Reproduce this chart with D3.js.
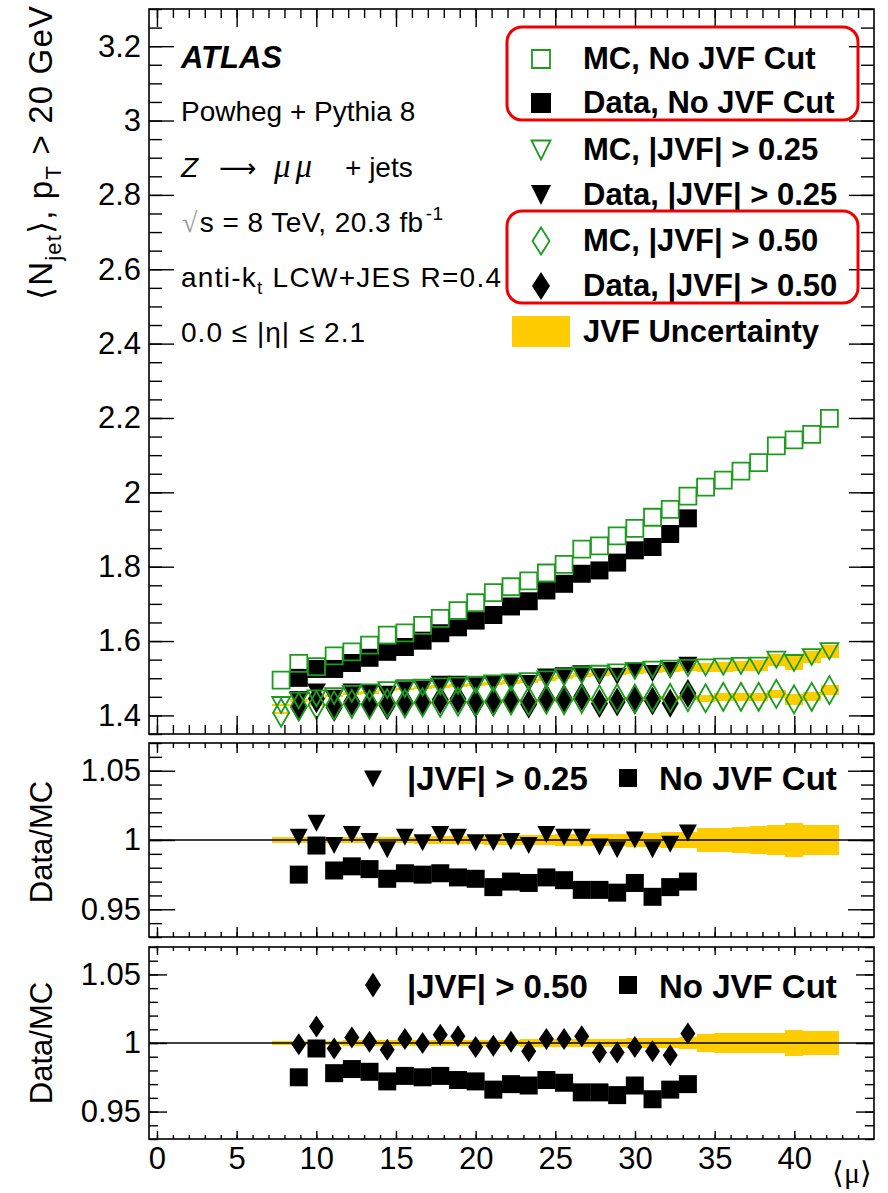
<!DOCTYPE html>
<html><head><meta charset="utf-8">
<script src="https://cdn.jsdelivr.net/npm/d3@7"></script>
<style>
body{margin:0;background:#fff;}
svg{display:block;font-family:"Liberation Sans",Arial,Helvetica,sans-serif;}
</style></head><body>
<svg id="c" width="888" height="1193"></svg>
<script>
// ---------------- data ----------------
const muMC = [7.79, 8.90, 10.01, 11.12, 12.23, 13.34, 14.45, 15.56, 16.67, 17.78, 18.89, 20.00, 21.11, 22.22, 23.33, 24.44,
              25.55, 26.66, 27.77, 28.88, 29.99, 31.10, 32.21, 33.32, 34.43, 35.54, 36.65, 37.76, 38.87, 39.98, 41.09, 42.20];
const muData = [8.90, 10.01, 11.12, 12.23, 13.34, 14.45, 15.56, 16.67, 17.78, 18.89, 20.00, 21.11, 22.22, 23.33, 24.44,
                25.55, 26.66, 27.77, 28.88, 29.99, 31.10, 32.21, 33.32];
const binWidth = 1.11;

const mcNoCut = [1.495, 1.540, 1.531, 1.560, 1.571, 1.589, 1.616, 1.622, 1.642, 1.661, 1.682, 1.703, 1.730, 1.746, 1.762, 1.783,
                 1.806, 1.847, 1.856, 1.883, 1.903, 1.933, 1.954, 1.990, 2.014, 2.033, 2.057, 2.080, 2.125, 2.141, 2.156, 2.199];
const dataNoCut = [1.501, 1.525, 1.525, 1.541, 1.555, 1.571, 1.584, 1.601, 1.621, 1.637, 1.655, 1.670, 1.693, 1.707, 1.736,
                   1.754, 1.781, 1.790, 1.811, 1.844, 1.853, 1.888, 1.930];
const mcJvf25 = [1.428, 1.440, 1.446, 1.452, 1.458, 1.462, 1.468, 1.471, 1.475, 1.478, 1.480, 1.483, 1.486, 1.489, 1.492, 1.497,
                 1.503, 1.508, 1.512, 1.516, 1.520, 1.523, 1.526, 1.528, 1.529, 1.531, 1.533, 1.534, 1.550, 1.541, 1.557, 1.573];
const dataJvf25 = [1.443, 1.463, 1.446, 1.463, 1.461, 1.457, 1.474, 1.471, 1.484, 1.484, 1.480, 1.483, 1.488, 1.486, 1.503,
                   1.507, 1.512, 1.504, 1.505, 1.520, 1.513, 1.521, 1.535];
const mcJvf50 = [1.407, 1.424, 1.428, 1.427, 1.431, 1.429, 1.433, 1.432, 1.435, 1.434, 1.437, 1.436, 1.438, 1.440, 1.439, 1.442,
                 1.441, 1.444, 1.443, 1.446, 1.445, 1.448, 1.447, 1.449, 1.446, 1.450, 1.450, 1.450, 1.458, 1.443, 1.450, 1.468];
const dataJvf50 = [1.422, 1.445, 1.421, 1.437, 1.430, 1.426, 1.437, 1.435, 1.442, 1.444, 1.432, 1.435, 1.441, 1.430, 1.447,
                   1.446, 1.451, 1.432, 1.436, 1.441, 1.439, 1.433, 1.459];

const ratioNoCut = [0.975, 0.996, 0.978, 0.981, 0.979, 0.972, 0.976, 0.975, 0.976, 0.973, 0.972, 0.966, 0.970, 0.969, 0.973,
                    0.971, 0.964, 0.964, 0.962, 0.969, 0.959, 0.966, 0.970];
const ratioJvf25 = [1.002, 1.012, 0.996, 1.004, 0.999, 0.993, 1.002, 0.998, 1.004, 1.002, 0.998, 0.998, 0.999, 0.996, 1.004,
                    1.002, 1.002, 0.995, 0.993, 1.000, 0.993, 0.997, 1.005];
const ratioJvf50 = [0.999, 1.012, 0.996, 1.004, 1.001, 0.995, 1.003, 1.000, 1.006, 1.005, 0.997, 0.998, 1.001, 0.994, 1.003,
                    1.003, 1.005, 0.993, 0.993, 0.997, 0.994, 0.991, 1.007];

// relative JVF uncertainty per MC bin
const unc25 = [0.002, 0.002, 0.002, 0.002, 0.0025, 0.0025, 0.0025, 0.0025, 0.003, 0.003, 0.003, 0.003, 0.0035, 0.0035, 0.0035, 0.0035,
               0.004, 0.004, 0.0045, 0.0045, 0.005, 0.005, 0.0055, 0.006, 0.0085, 0.0085, 0.0095, 0.010, 0.0105, 0.012, 0.0105, 0.011];
const unc50 = [0.0015, 0.0015, 0.0015, 0.0015, 0.002, 0.002, 0.002, 0.002, 0.002, 0.002, 0.002, 0.002, 0.0025, 0.0025, 0.003, 0.003,
               0.003, 0.003, 0.003, 0.003, 0.0035, 0.0035, 0.004, 0.0045, 0.0065, 0.007, 0.0075, 0.007, 0.0075, 0.0095, 0.0085, 0.009];

const xMajorTicks = [0, 5, 10, 15, 20, 25, 30, 35, 40];
const mainYTicks = [1.4, 1.6, 1.8, 2, 2.2, 2.4, 2.6, 2.8, 3, 3.2];
const ratioYTicks = [0.95, 1, 1.05];

const legendLabels = ["MC, No JVF Cut", "Data, No JVF Cut", "MC, |JVF| > 0.25", "Data, |JVF| > 0.25",
                      "MC, |JVF| > 0.50", "Data, |JVF| > 0.50", "JVF Uncertainty"];

// ---------------- layout ----------------
const GREEN = "#1c9c1c", YELLOW = "#ffcc00";
const X0 = 149, X1 = 874;
const svg = d3.select("#c");
const x = d3.scaleLinear().domain([-0.5, 45]).range([X0, X1]);
const yMain = d3.scaleLinear().domain([1.35, 3.3]).range([734, 9]);
const yR1 = d3.scaleLinear().domain([0.93, 1.07]).range([937, 743]);
const yR2 = d3.scaleLinear().domain([0.93, 1.07]).range([1139, 947]);

const sq = s => { const h = s / 2; return `M${-h},${-h}H${h}V${h}H${-h}Z`; };
const tri = (w, h) => `M${-w/2},${-h/2}H${w/2}L0,${h/2}Z`;
const dia = (w, h) => `M0,${-h/2}L${w/2},0L0,${h/2}L${-w/2},0Z`;

function markers(g, xs, ys, yScale, d, filled) {
  g.append("g").selectAll("path").data(d3.zip(xs, ys)).join("path")
    .attr("transform", p => `translate(${x(p[0])},${yScale(p[1])})`)
    .attr("d", d)
    .attr("fill", filled ? "#000" : "none")
    .attr("stroke", filled ? "none" : GREEN)
    .attr("stroke-width", filled ? 0 : 1.8);
}

function band(g, xs, centre, unc, yScale) {
  g.append("g").selectAll("rect").data(xs.map((m, i) => [m, centre[i], unc[i]])).join("rect")
    .attr("x", d => x(d[0] - binWidth / 2))
    .attr("width", d => x(d[0] + binWidth / 2) - x(d[0] - binWidth / 2) + 0.5)
    .attr("y", d => yScale(d[1] * (1 + d[2])))
    .attr("height", d => Math.max(1.5, yScale(d[1] * (1 - d[2])) - yScale(d[1] * (1 + d[2]))))
    .attr("fill", YELLOW).attr("shape-rendering", "crispEdges");
}

function frame(yScale, yTicks, yMinor, yLen, xLen, showXLabels) {
  const [yb, yt] = yScale.range();
  const g = svg.append("g");
  const style = a => {
    a.select(".domain").remove();
    a.selectAll("line").attr("stroke", "#000").attr("stroke-width", 1.4);
    a.attr("font-family", null).attr("font-size", 31).attr("fill", "#000");
  };
  g.append("g").attr("transform", `translate(${X0},0)`)
    .call(d3.axisLeft(yScale).tickValues(yMinor).tickSizeInner(-yLen[1]).tickSizeOuter(0).tickFormat(""))
    .call(style);
  g.append("g").attr("transform", `translate(${X0},0)`)
    .call(d3.axisLeft(yScale).tickValues(yTicks).tickSizeInner(-yLen[0]).tickSizeOuter(0).tickPadding(8).tickFormat(d => String(d)))
    .call(style);
  g.append("g").attr("transform", `translate(${X1},0)`)
    .call(d3.axisRight(yScale).tickValues(yMinor).tickSizeInner(-yLen[1]).tickSizeOuter(0).tickFormat(""))
    .call(style);
  g.append("g").attr("transform", `translate(${X1},0)`)
    .call(d3.axisRight(yScale).tickValues(yTicks).tickSizeInner(-yLen[0]).tickSizeOuter(0).tickFormat(""))
    .call(style);
  const xMinor = d3.range(0, 45);
  g.append("g").attr("transform", `translate(0,${yb})`)
    .call(d3.axisBottom(x).tickValues(xMinor).tickSizeInner(-xLen[1]).tickSizeOuter(0).tickFormat(""))
    .call(style);
  g.append("g").attr("transform", `translate(0,${yb})`)
    .call(d3.axisBottom(x).tickValues(xMajorTicks).tickSizeInner(-xLen[0]).tickSizeOuter(0).tickPadding(8)
      .tickFormat(showXLabels ? (d => String(d)) : ""))
    .call(style);
  g.append("g").attr("transform", `translate(0,${yt})`)
    .call(d3.axisTop(x).tickValues(xMinor).tickSizeInner(-xLen[1]).tickSizeOuter(0).tickFormat(""))
    .call(style);
  g.append("g").attr("transform", `translate(0,${yt})`)
    .call(d3.axisTop(x).tickValues(xMajorTicks).tickSizeInner(-xLen[0]).tickSizeOuter(0).tickFormat(""))
    .call(style);
  g.append("rect").attr("x", X0).attr("y", yt).attr("width", X1 - X0).attr("height", yb - yt)
    .attr("fill", "none").attr("stroke", "#000").attr("stroke-width", 1.6);
}

// ---------------- main panel ----------------
const gm = svg.append("g");
band(gm, muMC, mcJvf25, unc25, yMain);
band(gm, muMC, mcJvf50, unc50, yMain);
markers(gm, muData, dataNoCut, yMain, sq(18), true);
markers(gm, muData, dataJvf25, yMain, tri(19, 17), true);
markers(gm, muData, dataJvf50, yMain, dia(17, 29), true);
markers(gm, muMC, mcNoCut, yMain, sq(17), false);
markers(gm, muMC, mcJvf25, yMain, tri(18, 16), false);
markers(gm, muMC, mcJvf50, yMain, dia(16, 28), false);
frame(yMain, mainYTicks, d3.range(27, 67).map(k => k * 0.05), [25, 13], [18, 9], false);

// ---------------- ratio panels ----------------
const g1 = svg.append("g");
const ones = muMC.map(() => 1);
band(g1, muMC, ones, unc25, yR1);
g1.append("line").attr("x1", X0).attr("x2", X1).attr("y1", yR1(1)).attr("y2", yR1(1)).attr("stroke", "#000").attr("stroke-width", 1.3);
markers(g1, muData, ratioNoCut, yR1, sq(18), true);
markers(g1, muData, ratioJvf25, yR1, tri(18, 17), true);
frame(yR1, ratioYTicks, d3.range(93, 108).map(k => k * 0.01), [26, 13], [10, 5], false);

const g2 = svg.append("g");
band(g2, muMC, ones, unc50, yR2);
g2.append("line").attr("x1", X0).attr("x2", X1).attr("y1", yR2(1)).attr("y2", yR2(1)).attr("stroke", "#000").attr("stroke-width", 1.3);
markers(g2, muData, ratioNoCut, yR2, sq(18), true);
markers(g2, muData, ratioJvf50, yR2, dia(15, 22), true);
frame(yR2, ratioYTicks, d3.range(93, 108).map(k => k * 0.01), [18, 9], [8, 4], true);

// ---------------- texts ----------------
const T = svg.append("g").attr("fill", "#000");
T.append("text").attr("x", 181).attr("y", 68).attr("font-size", 31).attr("font-weight", "bold").attr("font-style", "italic").text("ATLAS");
T.append("text").attr("x", 181).attr("y", 121).attr("font-size", 28).text("Powheg + Pythia 8");
const tz = T.append("text").attr("y", 177).attr("font-size", 28);
tz.append("tspan").attr("x", 181).attr("font-style", "italic").text("Z");
tz.append("tspan").attr("x", 219).attr("font-family", "DejaVu Sans").attr("font-size", 26).text("\u27F6");
tz.append("tspan").attr("x", 274).attr("font-family", "Liberation Serif, serif").attr("font-style", "italic")
  .attr("font-size", 33).attr("letter-spacing", 5).text("\u03BC\u03BC");
tz.append("tspan").attr("x", 345).text("+ jets");
const ts = T.append("text").attr("x", 182).attr("y", 232).attr("font-size", 28);
ts.append("tspan").attr("fill", "#999").attr("font-family", "DejaVu Sans").attr("font-weight", "200").text("\u221A");
ts.append("tspan").attr("dx", 2).text("s = 8 TeV, 20.3 fb");
ts.append("tspan").attr("font-size", 19).attr("dx", 2).attr("dy", -12).text("-1");
ts.attr("textLength", 261).attr("lengthAdjust", "spacing");
const tk = T.append("text").attr("x", 181).attr("y", 287).attr("font-size", 28)
  .attr("textLength", 320).attr("lengthAdjust", "spacing");
tk.append("tspan").text("anti-k");
tk.append("tspan").attr("font-size", 19).attr("dy", 7).text("t");
tk.append("tspan").attr("dy", -7).text(" LCW+JES R=0.4");
T.append("text").attr("x", 181).attr("y", 342).attr("font-size", 28).attr("textLength", 184).attr("lengthAdjust", "spacing")
  .text("0.0 \u2264 |\u03B7| \u2264 2.1");

// y title
const yt = T.append("text").attr("transform", "translate(52,6) rotate(-90)").attr("text-anchor", "end").attr("font-size", 33)
  .attr("textLength", 294).attr("lengthAdjust", "spacing");
yt.append("tspan").attr("font-family", "DejaVu Sans").attr("font-weight", "200").text("\u27E8");
yt.append("tspan").text("N");
yt.append("tspan").attr("font-size", 22).attr("dy", 9).text("jet");
yt.append("tspan").attr("dy", -9).attr("font-family", "DejaVu Sans").attr("font-weight", "200").text("\u27E9");
yt.append("tspan").text(", p");
yt.append("tspan").attr("font-size", 22).attr("dy", 9).text("T");
yt.append("tspan").attr("dy", -9).text(" > 20 GeV");

T.append("text").attr("transform", "translate(52,842) rotate(-90)").attr("text-anchor", "middle").attr("font-size", 31).text("Data/MC");
T.append("text").attr("transform", "translate(52,1043) rotate(-90)").attr("text-anchor", "middle").attr("font-size", 31).text("Data/MC");

// x title
const xt = T.append("text").attr("x", 872).attr("y", 1183).attr("text-anchor", "end").attr("font-size", 30);
xt.append("tspan").attr("font-family", "DejaVu Sans").attr("font-weight", "200").text("\u27E8");
xt.append("tspan").attr("font-family", "Liberation Serif, serif").text("\u03BC");
xt.append("tspan").attr("font-family", "DejaVu Sans").attr("font-weight", "200").text("\u27E9");

// ---------------- legend ----------------
const L = svg.append("g");
const rowY = [59, 103, 150, 195, 241, 286, 332];
const legShapes = [
  {d: sq(18), f: false}, {d: sq(20), f: true}, {d: tri(19, 19), f: false}, {d: tri(20, 20), f: true},
  {d: dia(17, 27), f: false}, {d: dia(18, 28), f: true}
];
legShapes.forEach((s, i) => {
  L.append("path").attr("transform", `translate(541,${rowY[i]})`).attr("d", s.d)
    .attr("fill", s.f ? "#000" : "none").attr("stroke", s.f ? "none" : GREEN).attr("stroke-width", 1.8);
});
L.append("rect").attr("x", 512).attr("y", rowY[6] - 16).attr("width", 58).attr("height", 31).attr("fill", YELLOW);
legendLabels.forEach((t, i) => {
  L.append("text").attr("x", 583).attr("y", rowY[i] + 10).attr("font-size", 31).attr("font-weight", "bold").text(t);
});
L.append("rect").attr("x", 507).attr("y", 27).attr("width", 351).attr("height", 93).attr("rx", 15)
  .attr("fill", "none").attr("stroke", "#ee0000").attr("stroke-width", 3);
L.append("rect").attr("x", 507).attr("y", 211).attr("width", 351).attr("height", 92).attr("rx", 15)
  .attr("fill", "none").attr("stroke", "#ee0000").attr("stroke-width", 3);

// ratio legends
const R = svg.append("g");
R.append("path").attr("transform", "translate(373,779)").attr("d", tri(18, 17)).attr("fill", "#000");
R.append("text").attr("x", 407).attr("y", 790).attr("font-size", 33).attr("font-weight", "bold").text("|JVF| > 0.25");
R.append("path").attr("transform", "translate(628,778)").attr("d", sq(18)).attr("fill", "#000");
R.append("text").attr("x", 659).attr("y", 790).attr("font-size", 33).attr("font-weight", "bold").text("No JVF Cut");
R.append("path").attr("transform", "translate(373,985)").attr("d", dia(16, 25)).attr("fill", "#000");
R.append("text").attr("x", 407).attr("y", 998).attr("font-size", 33).attr("font-weight", "bold").text("|JVF| > 0.50");
R.append("path").attr("transform", "translate(628,985)").attr("d", sq(18)).attr("fill", "#000");
R.append("text").attr("x", 659).attr("y", 998).attr("font-size", 33).attr("font-weight", "bold").text("No JVF Cut");
</script>
</body></html>
